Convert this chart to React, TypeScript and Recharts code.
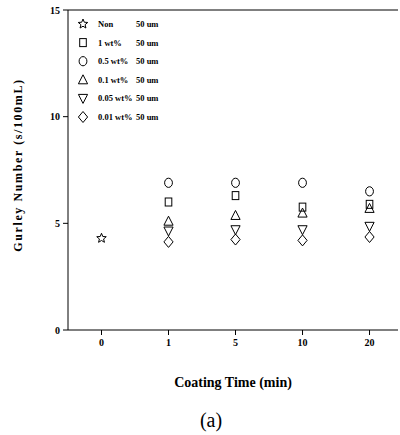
import React from 'react';
import { ScatterChart, Scatter, XAxis, YAxis, ReferenceLine } from 'recharts';

// coating time categories (x positions are category indexes)
const times = ['0', '1', '5', '10', '20'];
const yTicks = [0, 5, 10, 15];

const nonVals = [4.3];
const wt1Vals = [6.0, 6.3, 5.76, 5.89];
const wt05Vals = [6.9, 6.9, 6.9, 6.5];
const wt01Vals = [5.1, 5.37, 5.48, 5.7];
const wt005Vals = [4.64, 4.7, 4.7, 4.86];
const wt001Vals = [4.13, 4.24, 4.2, 4.36];

const FONT = '"Liberation Serif", "Times New Roman", serif';

type Kind = 'star' | 'square' | 'circle' | 'up' | 'down' | 'diamond';

const series: { name: string; kind: Kind; vals: number[]; start: number }[] = [
  { name: 'Non', kind: 'star', vals: nonVals, start: 0 },
  { name: '1 wt%', kind: 'square', vals: wt1Vals, start: 1 },
  { name: '0.5 wt%', kind: 'circle', vals: wt05Vals, start: 1 },
  { name: '0.1 wt%', kind: 'up', vals: wt01Vals, start: 1 },
  { name: '0.05 wt%', kind: 'down', vals: wt005Vals, start: 1 },
  { name: '0.01 wt%', kind: 'diamond', vals: wt001Vals, start: 1 },
];

const starPts = (cx: number, cy: number) => {
  const pts: string[] = [];
  for (let i = 0; i < 10; i++) {
    const r = i % 2 === 0 ? 5 : 2.2;
    const a = -Math.PI / 2 + (i * Math.PI) / 5;
    pts.push(`${cx + r * Math.cos(a)},${cy + r * Math.sin(a)}`);
  }
  return pts.join(' ');
};

const Marker = ({ kind, cx, cy }: { kind: Kind; cx: number; cy: number }) => {
  const p = { fill: 'none', stroke: '#000', strokeWidth: 1 };
  switch (kind) {
    case 'star':
      return <polygon points={starPts(cx, cy)} {...p} />;
    case 'square':
      return <rect x={cx - 3.3} y={cy - 4} width={6.6} height={8} {...p} />;
    case 'circle':
      return <ellipse cx={cx} cy={cy} rx={3.9} ry={4.6} {...p} />;
    case 'up':
      return <polygon points={`${cx},${cy - 5} ${cx + 4.6},${cy + 4} ${cx - 4.6},${cy + 4}`} {...p} />;
    case 'down':
      return <polygon points={`${cx},${cy + 5} ${cx + 4.6},${cy - 4} ${cx - 4.6},${cy - 4}`} {...p} />;
    default:
      return <polygon points={`${cx},${cy - 5.5} ${cx + 4.6},${cy} ${cx},${cy + 5.5} ${cx - 4.6},${cy}`} {...p} />;
  }
};

const LegendBox = () => (
  <svg width={130} height={115} style={{ display: 'block' }}>
    {series.map((s, i) => {
      const y = 10 + i * 18.6;
      return (
        <g key={s.name}>
          <Marker kind={s.kind} cx={9} cy={y} />
          <text x={24} y={y + 3} fontFamily={FONT} fontWeight="bold" fontSize={8.5}>{s.name}</text>
          <text x={62} y={y + 3} fontFamily={FONT} fontWeight="bold" fontSize={8.5}>50 um</text>
        </g>
      );
    })}
  </svg>
);

export default function App() {
  const tickStyle = { fill: '#000', fontSize: 10, fontWeight: 'bold' as const, fontFamily: FONT };
  return (
    <div style={{ position: 'absolute', left: 0, top: 0, width: 400, height: 435, background: '#fff' }}>
      <ScatterChart width={400} height={435} margin={{ top: 10, right: 2, left: 8, bottom: 40 }}>
        <XAxis
          type="number"
          dataKey="x"
          domain={[-0.5, 4.425]}
          ticks={[0, 1, 2, 3, 4]}
          tickFormatter={(v: number) => times[v]}
          allowDataOverflow
          height={65}
          tickSize={5}
          stroke="#000"
          tick={tickStyle}
          tickMargin={4}
          label={{
            value: 'Coating Time (min)',
            position: 'insideBottom',
            offset: 8,
            style: { fill: '#000', fontSize: 14, fontWeight: 'bold', fontFamily: FONT },
          }}
        />
        <YAxis
          type="number"
          dataKey="y"
          domain={[0, 15]}
          ticks={yTicks}
          width={60}
          tickSize={5}
          stroke="#000"
          tick={tickStyle}
          tickMargin={3}
          label={{
            content: () => (
              <text
                transform="translate(22,165) rotate(-90)"
                textAnchor="middle"
                fontFamily={FONT}
                fontWeight="bold"
                fontSize={12}
                letterSpacing={1.6}
                fill="#000"
              >
                Gurley Number (s/100mL)
              </text>
            ),
          }}
        />
        <ReferenceLine y={15} stroke="#000" strokeWidth={1} />
        {series.map((s) => (
          <Scatter
            key={s.name}
            name={s.name}
            data={s.vals.map((v, i) => ({ x: s.start + i, y: v }))}
            isAnimationActive={false}
            shape={(props: any) => <Marker kind={s.kind} cx={props.cx} cy={props.cy} />}
          />
        ))}
      </ScatterChart>
      <div style={{ position: 'absolute', left: 74, top: 14 }}>
        <LegendBox />
      </div>
      <div
        style={{
          position: 'absolute',
          left: 0,
          width: 422,
          top: 409,
          textAlign: 'center',
          fontFamily: FONT,
          fontSize: 20,
        }}
      >
        (a)
      </div>
    </div>
  );
}
